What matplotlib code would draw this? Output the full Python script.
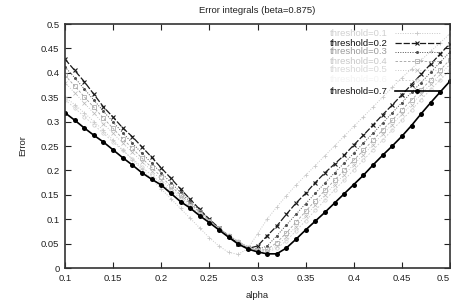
import matplotlib
matplotlib.use("Agg")
import matplotlib.pyplot as plt
from matplotlib.lines import Line2D

plt.rcParams['font.family'] = ['Liberation Sans', 'DejaVu Sans']

alpha = [0.10, 0.11, 0.12, 0.13, 0.14, 0.15, 0.16, 0.17, 0.18, 0.19,
         0.20, 0.21, 0.22, 0.23, 0.24, 0.25, 0.26, 0.27, 0.28, 0.29,
         0.30, 0.31, 0.32, 0.33, 0.34, 0.35, 0.36, 0.37, 0.38, 0.39,
         0.40, 0.41, 0.42, 0.43, 0.44, 0.45, 0.46, 0.47, 0.48, 0.49, 0.50]

err_t01 = [0.350, 0.335, 0.318, 0.300, 0.282, 0.262, 0.242, 0.222, 0.202, 0.182,
           0.162, 0.142, 0.122, 0.102, 0.082, 0.062, 0.045, 0.032, 0.028, 0.040,
           0.070, 0.100, 0.125, 0.148, 0.170, 0.190, 0.210, 0.230, 0.250, 0.270,
           0.290, 0.310, 0.330, 0.350, 0.370, 0.390, 0.408, 0.426, 0.444, 0.462, 0.480]
err_t02 = [0.428, 0.405, 0.382, 0.356, 0.330, 0.309, 0.287, 0.269, 0.248, 0.227,
           0.205, 0.184, 0.162, 0.141, 0.120, 0.100, 0.082, 0.065, 0.050, 0.040,
           0.045, 0.066, 0.086, 0.110, 0.133, 0.153, 0.175, 0.195, 0.213, 0.231,
           0.252, 0.272, 0.293, 0.314, 0.334, 0.355, 0.376, 0.397, 0.418, 0.439, 0.460]
err_t03 = [0.412, 0.390, 0.367, 0.344, 0.321, 0.299, 0.277, 0.256, 0.235, 0.215,
           0.195, 0.175, 0.155, 0.136, 0.117, 0.099, 0.082, 0.067, 0.054, 0.043,
           0.038, 0.045, 0.066, 0.088, 0.110, 0.132, 0.153, 0.174, 0.195, 0.215,
           0.235, 0.256, 0.276, 0.297, 0.318, 0.339, 0.360, 0.380, 0.401, 0.422, 0.443]
err_t04 = [0.395, 0.373, 0.351, 0.329, 0.307, 0.286, 0.265, 0.245, 0.225, 0.206,
           0.187, 0.168, 0.150, 0.132, 0.114, 0.097, 0.081, 0.066, 0.053, 0.042,
           0.036, 0.038, 0.052, 0.072, 0.094, 0.116, 0.138, 0.159, 0.180, 0.200,
           0.221, 0.241, 0.262, 0.283, 0.303, 0.324, 0.344, 0.365, 0.386, 0.406, 0.427]
err_t05 = [0.380, 0.359, 0.338, 0.317, 0.296, 0.276, 0.256, 0.237, 0.218, 0.199,
           0.181, 0.163, 0.146, 0.129, 0.112, 0.096, 0.080, 0.066, 0.053, 0.043,
           0.036, 0.035, 0.045, 0.064, 0.085, 0.107, 0.129, 0.150, 0.171, 0.191,
           0.212, 0.232, 0.253, 0.274, 0.294, 0.315, 0.335, 0.356, 0.377, 0.397, 0.418]
err_t06 = [0.345, 0.328, 0.310, 0.293, 0.276, 0.258, 0.241, 0.224, 0.207, 0.190,
           0.174, 0.158, 0.142, 0.126, 0.111, 0.096, 0.081, 0.067, 0.055, 0.044,
           0.036, 0.033, 0.040, 0.056, 0.076, 0.097, 0.118, 0.139, 0.160, 0.180,
           0.201, 0.221, 0.242, 0.262, 0.283, 0.303, 0.324, 0.345, 0.366, 0.386, 0.405]
err_t07 = [0.318, 0.303, 0.287, 0.272, 0.258, 0.242, 0.226, 0.211, 0.195, 0.182,
           0.170, 0.153, 0.136, 0.123, 0.107, 0.093, 0.078, 0.063, 0.049, 0.039,
           0.033, 0.029, 0.029, 0.041, 0.059, 0.078, 0.096, 0.114, 0.133, 0.152,
           0.171, 0.190, 0.211, 0.231, 0.250, 0.270, 0.292, 0.316, 0.339, 0.361, 0.383]

labels = ["threshold=0.1", "threshold=0.2", "threshold=0.3", "threshold=0.4",
          "threshold=0.5", "threshold=0.6", "threshold=0.7"]
series = [err_t01, err_t02, err_t03, err_t04, err_t05, err_t06, err_t07]

x_ticks = [0.1, 0.15, 0.2, 0.25, 0.3, 0.35, 0.4, 0.45, 0.5]
x_ticklabels = ["0.1", "0.15", "0.2", "0.25", "0.3", "0.35", "0.4", "0.45", "0.5"]
y_ticks = [0, 0.05, 0.1, 0.15, 0.2, 0.25, 0.3, 0.35, 0.4, 0.45, 0.5]
y_ticklabels = ["0", "0.05", "0.1", "0.15", "0.2", "0.25", "0.3", "0.35", "0.4", "0.45", "0.5"]

styles = [
    dict(color='#c8c8c8', lw=0.7, ls=(0, (1, 1.5)), marker='+', ms=3, mew=0.6, txt='#d0d0d0'),
    dict(color='#1a1a1a', lw=0.9, ls=(0, (5, 1.5)), marker='x', ms=3.2, mew=0.8, txt='#111111'),
    dict(color='#505050', lw=0.7, ls=(0, (1, 1.5)), marker='o', ms=2.2, mew=0, txt='#9a9a9a'),
    dict(color='#a0a0a0', lw=0.6, ls=(0, (3, 2)), marker='s', ms=2.6, mew=0.5, mfc='none', txt='#c8c8c8'),
    dict(color='#b8b8b8', lw=0.6, ls=(0, (1, 2)), marker='x', ms=2.6, mew=0.5, txt='#d8d8d8'),
    dict(color='#cccccc', lw=0.6, ls=(0, (2, 2)), marker='o', ms=2.4, mew=0.5, mfc='none', txt='#f4f4f4'),
    dict(color='#000000', lw=1.2, ls='-', marker='o', ms=3.6, mew=0, txt='#111111'),
]

fig = plt.figure(figsize=(4.52, 3.02), dpi=100)
ax = fig.add_axes([65/452, 1 - 268/302, 385/452, 244/302])

for y, st in zip(series, styles):
    ax.plot(alpha, y, color=st['color'], lw=st['lw'], ls=st['ls'],
            marker=st['marker'], ms=st['ms'], mew=st['mew'],
            mfc=st.get('mfc', st['color']), mec=st['color'])

ax.set_xlim(0.1, 0.5)
ax.set_ylim(0, 0.5)
ax.set_xticks(x_ticks)
ax.set_xticklabels(x_ticklabels)
ax.set_yticks(y_ticks)
ax.set_yticklabels(y_ticklabels)
ax.tick_params(direction='in', top=True, right=True, length=4, width=0.8,
               labelsize=6.8, colors='#222222', pad=4)
ax.get_xticklabels()[-1].set_horizontalalignment('right')
for sp in ax.spines.values():
    sp.set_linewidth(1.2)
    sp.set_color('#333333')

ax.set_title("Error integrals (beta=0.875)", fontsize=6.8, pad=8, color='#222222')
ax.set_xlabel("alpha", fontsize=6.8, color='#222222', labelpad=6)
ax.set_ylabel("Error", fontsize=6.8, color='#222222', labelpad=10)

# gnuplot-style legend: label right-aligned, sample to the right
row_y = [33, 43, 52, 61, 70, 80, 91]
for lab, st, py in zip(labels, styles, row_y):
    yf = 1 - py / 302
    fig.text(388/452, yf, lab, ha='right', va='center', fontsize=6.8, color=st['txt'])
    fig.add_artist(Line2D([395/452, 440/452], [yf, yf], transform=fig.transFigure,
                          color=st['color'], lw=st['lw'], ls=st['ls']))
    fig.add_artist(Line2D([417.5/452], [yf], transform=fig.transFigure,
                          color=st['color'], marker=st['marker'], ms=st['ms'], mew=st['mew'],
                          mfc=st.get('mfc', st['color']), mec=st['color'], ls='none'))

fig.savefig("out.png", dpi=100)
